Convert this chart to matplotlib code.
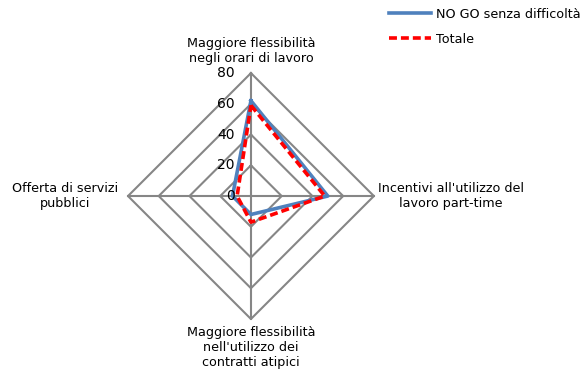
import matplotlib.pyplot as plt
import numpy as np

# Categorie e valori (%)
categorie = [
    "Maggiore flessibilità\nnegli orari di lavoro",
    "Incentivi all'utilizzo del\nlavoro part-time",
    "Maggiore flessibilità\nnell'utilizzo dei\ncontratti atipici",
    "Offerta di servizi\npubblici",
]
no_go = [62, 50, 12, 12]
totale = [59, 48, 17, 9]
tick_vals = [0, 20, 40, 60, 80]

# angoli: alto, destra, basso, sinistra
theta = np.array([np.pi / 2, 0, -np.pi / 2, np.pi])
th_closed = np.append(theta, theta[0])

fig = plt.figure(figsize=(5.87, 3.76), dpi=100)
ax = fig.add_axes([0.218, 0.1516, 0.419, 0.654], projection='polar')
ax.set_ylim(0, 80)
ax.grid(False)
ax.spines['polar'].set_visible(False)
ax.set_xticks([])
ax.set_yticks([])
ax.patch.set_visible(False)

grid_col = '#868686'
# anelli a rombo
for r in tick_vals[1:]:
    ax.plot(th_closed, [r] * 5, color=grid_col, lw=1.5, zorder=1, clip_on=False)
# raggi
for t in theta:
    ax.plot([t, t], [0, 80], color=grid_col, lw=1.5, zorder=1, clip_on=False)

ax.plot(th_closed, no_go + no_go[:1], color='#4F81BD', lw=2.6, zorder=3,
        label='NO GO senza difficoltà', clip_on=False)
ax.plot(th_closed, totale + totale[:1], color='#FF0000', lw=2.6, zorder=4,
        dashes=(2.2, 1.1), label='Totale', clip_on=False)

# etichette dei valori sull'asse verticale
for v in tick_vals:
    ax.annotate(str(v), xy=(np.pi / 2, v), xytext=(-11.5, 0), textcoords='offset points',
                ha='right', va='center', fontsize=10, color='#000000')

# etichette delle categorie
fs = 9.2
ax.annotate(categorie[0], xy=(np.pi / 2, 80), xytext=(0, 6), textcoords='offset points',
            ha='center', va='bottom', fontsize=fs, multialignment='center')
ax.annotate(categorie[1], xy=(0, 80), xytext=(3, 0), textcoords='offset points',
            ha='left', va='center', fontsize=fs, multialignment='center')
ax.annotate(categorie[2], xy=(-np.pi / 2, 80), xytext=(0, -5), textcoords='offset points',
            ha='center', va='top', fontsize=fs, multialignment='center')
ax.annotate(categorie[3], xy=(np.pi, 80), xytext=(-7, 0), textcoords='offset points',
            ha='right', va='center', fontsize=fs, multialignment='center')

fig.legend(loc='upper left', bbox_to_anchor=(0.643, 1.01), frameon=False, fontsize=fs,
           handlelength=3.3, handletextpad=0.4, labelspacing=0.95)

fig.savefig('out.png', dpi=100)
